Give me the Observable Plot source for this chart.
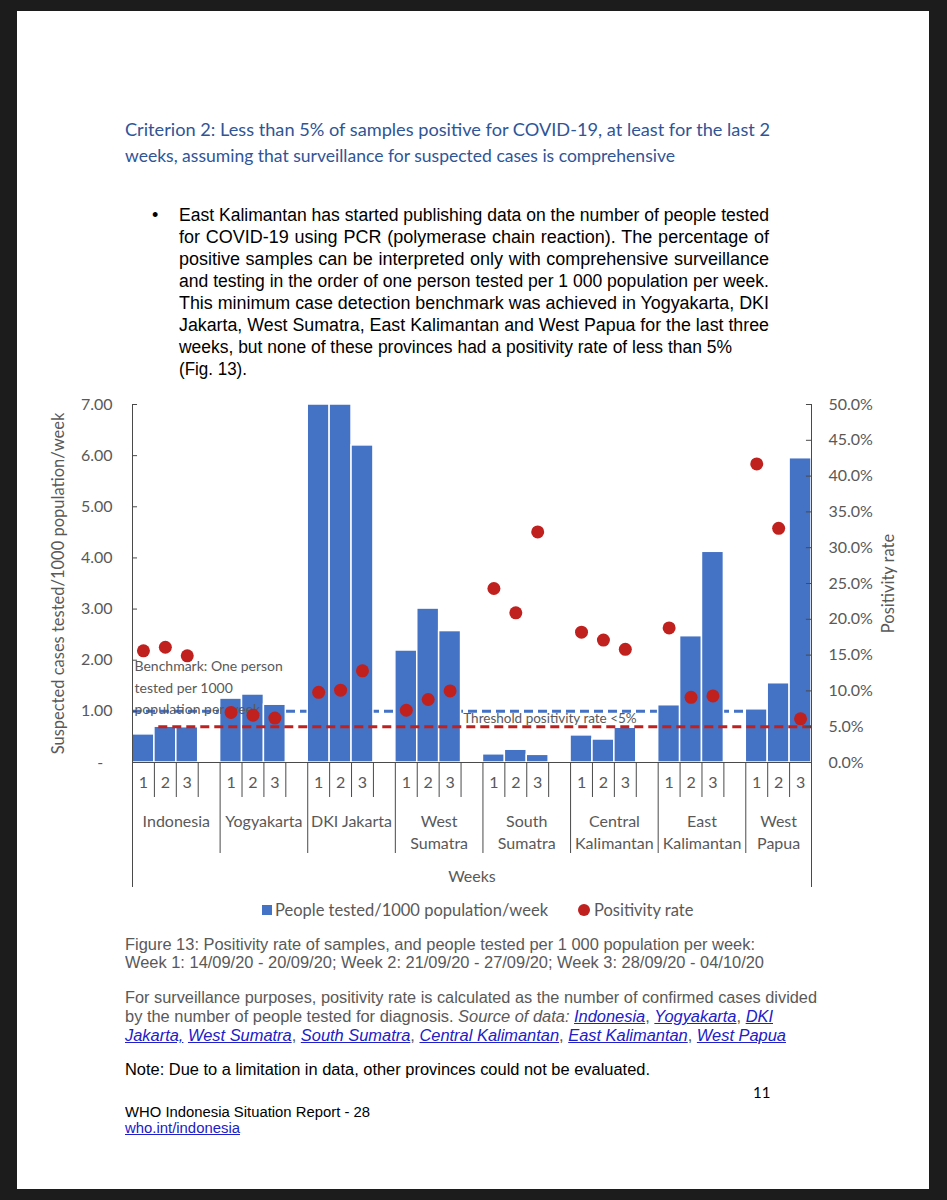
<!DOCTYPE html>
<html><head><meta charset="utf-8">
<script src="https://cdn.jsdelivr.net/npm/d3@7"></script>
<script src="https://cdn.jsdelivr.net/npm/@observablehq/plot@0.6"></script>
<style>
html,body{margin:0;padding:0;background:#1c1c1c;}
#root{position:relative;width:947px;height:1200px;overflow:hidden;background:#1c1c1c;}
#page{position:absolute;left:17px;top:11px;width:912px;height:1178px;background:#fff;}
.ln{position:absolute;white-space:nowrap;line-height:20px;height:20px;transform-origin:0 50%;}
.title{font-family:Lato,"Open Sans",sans-serif;font-size:17.5px;color:#2f5597;}
.body{font-family:"Liberation Sans",Arial,sans-serif;font-size:18px;color:#000;}
.cap{font-family:"Liberation Sans",Arial,sans-serif;font-size:16px;color:#595959;}
.cap a{color:#2020c8;font-style:italic;text-decoration:underline;}
.foot{font-family:"Liberation Sans",Arial,sans-serif;font-size:15.5px;color:#000;}
#chart{position:absolute;left:0;top:390px;}
.leg{position:absolute;font-family:Lato,"Open Sans",sans-serif;font-size:16.5px;color:#595959;white-space:nowrap;line-height:20px;}
</style></head>
<body>
<div id="root">
  <div id="page"></div>
  <div class="ln title" style="left:125px;top:120px" data-w="645">Criterion 2: Less than 5% of samples positive for COVID-19, at least for the last 2</div>
  <div class="ln title" style="left:125px;top:146px" data-w="550">weeks, assuming that surveillance for suspected cases is comprehensive</div>

  <div class="ln body" style="left:152px;top:205px">•</div>
  <div class="ln body just" style="left:179px;top:205px" data-w="590">East Kalimantan has started publishing data on the number of people tested</div>
  <div class="ln body just" style="left:179px;top:227px" data-w="590">for COVID-19 using PCR (polymerase chain reaction). The percentage of</div>
  <div class="ln body just" style="left:179px;top:249px" data-w="590">positive samples can be interpreted only with comprehensive surveillance</div>
  <div class="ln body just" style="left:179px;top:271px" data-w="590">and testing in the order of one person tested per 1 000 population per week.</div>
  <div class="ln body just" style="left:179px;top:293px" data-w="590">This minimum case detection benchmark was achieved in Yogyakarta, DKI</div>
  <div class="ln body just" style="left:179px;top:315px" data-w="590">Jakarta, West Sumatra, East Kalimantan and West Papua for the last three</div>
  <div class="ln body" style="left:179px;top:337px" data-w="553">weeks, but none of these provinces had a positivity rate of less than 5%</div>
  <div class="ln body" style="left:179px;top:359px" data-w="68">(Fig. 13).</div>

  <div id="chart"></div>

  <div style="position:absolute;left:262px;top:905px;width:10px;height:10px;background:#4472C4"></div>
  <div class="leg" style="left:275px;top:900px">People tested/1000 population/week</div>
  <div style="position:absolute;left:578px;top:904px;width:12px;height:12px;border-radius:50%;background:#C0201E"></div>
  <div class="leg" style="left:594px;top:900px">Positivity rate</div>

  <div class="ln cap" style="left:125px;top:935px" data-w="630">Figure 13: Positivity rate of samples, and people tested per 1 000 population per week:</div>
  <div class="ln cap" style="left:125px;top:953px" data-w="639">Week 1: 14/09/20 - 20/09/20; Week 2: 21/09/20 - 27/09/20; Week 3: 28/09/20 - 04/10/20</div>
  <div class="ln cap" style="left:125px;top:988px" data-w="692">For surveillance purposes, positivity rate is calculated as the number of confirmed cases divided</div>
  <div class="ln cap" style="left:125px;top:1007px" data-w="648">by the number of people tested for diagnosis. <i>Source of data: </i><a>Indonesia</a>, <a>Yogyakarta</a>, <a>DKI</a></div>
  <div class="ln cap" style="left:125px;top:1026px" data-w="661"><a>Jakarta,</a> <a>West Sumatra</a>, <a>South Sumatra</a>, <a>Central Kalimantan</a>, <a>East Kalimantan</a>, <a>West Papua</a></div>
  <div class="ln cap" style="left:125px;top:1060px;color:#000" data-w="525">Note: Due to a limitation in data, other provinces could not be evaluated.</div>
  <div class="ln foot" style="left:753px;top:1082px;font-family:Lato,sans-serif;font-size:15px">11</div>
  <div class="ln foot" style="left:125px;top:1102px" data-w="245">WHO Indonesia Situation Report - 28</div>
  <div class="ln foot" style="left:125px;top:1118px;color:#2020c8;text-decoration:underline" data-w="115">who.int/indonesia</div>
</div>
<script>
// ---- data ----
const groups = ["Indonesia","Yogyakarta","DKI Jakarta","West Sumatra","South Sumatra","Central Kalimantan","East Kalimantan","West Papua"];
const groupLabels = ["Indonesia","Yogyakarta","DKI Jakarta","West\nSumatra","South\nSumatra","Central\nKalimantan","East\nKalimantan","West\nPapua"];
const weeks = ["1","2","3"];
const tested = [
  [0.55,0.70,0.69],
  [1.25,1.33,1.13],
  [7.00,7.00,6.20],
  [2.19,3.01,2.57],
  [0.16,0.25,0.15],
  [0.53,0.45,0.68],
  [1.12,2.47,4.12],
  [1.04,1.55,5.95]
];
const positivity = [ // percent
  [15.6,16.1,14.9],
  [7.0,6.6,6.2],
  [9.8,10.1,12.8],
  [7.3,8.8,10.0],
  [24.3,20.9,32.2],
  [18.2,17.1,15.8],
  [18.8,9.1,9.3],
  [41.7,32.7,6.1]
];
const benchmark = 1.0;
const threshold = 5;
const leftTicks = [0,1,2,3,4,5,6,7];
const rightTicks = [0,5,10,15,20,25,30,35,40,45,50];
const yMax = 7, pMax = 50;

// ---- derived ----
const pToY = p => p / pMax * yMax;
const rows = [];
groups.forEach((g, gi) => weeks.forEach((w, wi) => rows.push({group: g, week: w, slot: gi * 4 + wi, tested: tested[gi][wi], rate: positivity[gi][wi]})));
const nSlots = groups.length * 4 - 1;
const groupData = groups.map((g, gi) => ({label: groupLabels[gi], start: gi * 4, end: Math.min(gi * 4 + 4, nSlots)}));
const weekBounds = d3.range(1, nSlots).filter(i => i % 4 !== 0);
const groupBounds = d3.range(4, nSlots, 4);
const outerBounds = [0, nSlots];
const blue = "#4472C4", red = "#C0201E", gray = "#595959", axisC = "#4a4a4a";
const tick = 0.23;

const chart = Plot.plot({
  width: 947, height: 502,
  marginLeft: 132, marginRight: 136, marginTop: 14, marginBottom: 130,
  x: {domain: [0, nSlots]},
  y: {domain: [0, yMax]},
  style: {fontFamily: "Lato, 'Open Sans', sans-serif", fontSize: "16px", color: gray, background: "transparent", overflow: "visible"},
  marks: [
    Plot.ruleY([benchmark], {stroke: blue, strokeWidth: 3, strokeDasharray: "9,5"}),
    Plot.rectY(rows, {x1: "slot", x2: d => d.slot + 1, y: "tested", fill: blue, stroke: "white", strokeWidth: 1.5}),
    Plot.ruleY([threshold], {y: pToY, x1: 1.2, x2: nSlots, stroke: red, strokeWidth: 3, strokeDasharray: "9,5"}),
    Plot.text(["Benchmark: One person\ntested per 1000\npopulation per week"], {text: d => d, x: 0, y: 2.09, dx: 2, textAnchor: "start", lineAnchor: "top", lineHeight: 1.55, fontSize: 14, fill: gray}),
    Plot.text(["Threshold positivity rate <5%"], {text: d => d, x: 15.1, y: 0.85, textAnchor: "start", fontSize: 13.5, fill: gray}),
    Plot.dot(rows, {x: d => d.slot + 0.5, y: d => pToY(d.rate), r: 6.5, fill: red}),
    // axis lines
    Plot.ruleX([0], {stroke: axisC}),
    Plot.ruleX([nSlots], {stroke: axisC}),
    Plot.ruleY([0], {stroke: axisC}),
    Plot.ruleY(leftTicks, {x1: 0, x2: tick, stroke: axisC}),
    Plot.ruleY(rightTicks.map(pToY), {x1: nSlots - tick, x2: nSlots, stroke: axisC}),
    Plot.axisY(leftTicks, {anchor: "left", tickSize: 0, tickPadding: 20, tickFormat: d => d === 0 ? "-\u2007" : d.toFixed(2), label: null, fontSize: 16, fill: gray}),
    Plot.axisY(rightTicks.map(pToY), {anchor: "right", tickSize: 0, tickPadding: 17, tickFormat: d => (d / yMax * pMax).toFixed(1) + "%", label: null, fontSize: 16, fill: gray}),
    // multi-level category axis
    Plot.axisX(weekBounds, {tickSize: 35, tickFormat: () => "", label: null, stroke: axisC}),
    Plot.axisX(groupBounds, {tickSize: 91, tickFormat: () => "", label: null, stroke: axisC}),
    Plot.axisX(outerBounds, {tickSize: 125, tickFormat: () => "", label: null, stroke: axisC}),
    Plot.text(rows, {x: d => d.slot + 0.5, text: "week", frameAnchor: "bottom", dy: 25, fontSize: 16, fill: gray}),
    Plot.text(groupData, {x: d => (d.start + d.end) / 2, text: "label", frameAnchor: "bottom", lineAnchor: "top", dy: 49, lineHeight: 1.38, fontSize: 16, fill: gray}),
    Plot.text(["Weeks"], {text: d => d, frameAnchor: "bottom", dy: 119, fontSize: 16, fill: gray}),
    // axis titles
    Plot.text(["Suspected cases tested/1000 population/week"], {text: d => d, frameAnchor: "left", textAnchor: "middle", rotate: -90, dx: -74, fontSize: 16.5, fill: gray}),
    Plot.text(["Positivity rate"], {text: d => d, frameAnchor: "right", textAnchor: "middle", rotate: -90, dx: 77, fontSize: 16.5, fill: gray})
  ]
});
document.getElementById("chart").appendChild(chart);

// fit text lines to the widths seen on the page
document.querySelectorAll(".ln[data-w]").forEach(el => {
  const target = +el.dataset.w;
  const w = el.getBoundingClientRect().width;
  if (el.classList.contains("just") && w < target) {
    const spaces = (el.textContent.match(/ /g) || []).length;
    if (spaces) el.style.wordSpacing = ((target - w) / spaces) + "px";
  } else if (w > 0) {
    el.style.transform = `scaleX(${target / w})`;
  }
});
</script>
</body></html>
